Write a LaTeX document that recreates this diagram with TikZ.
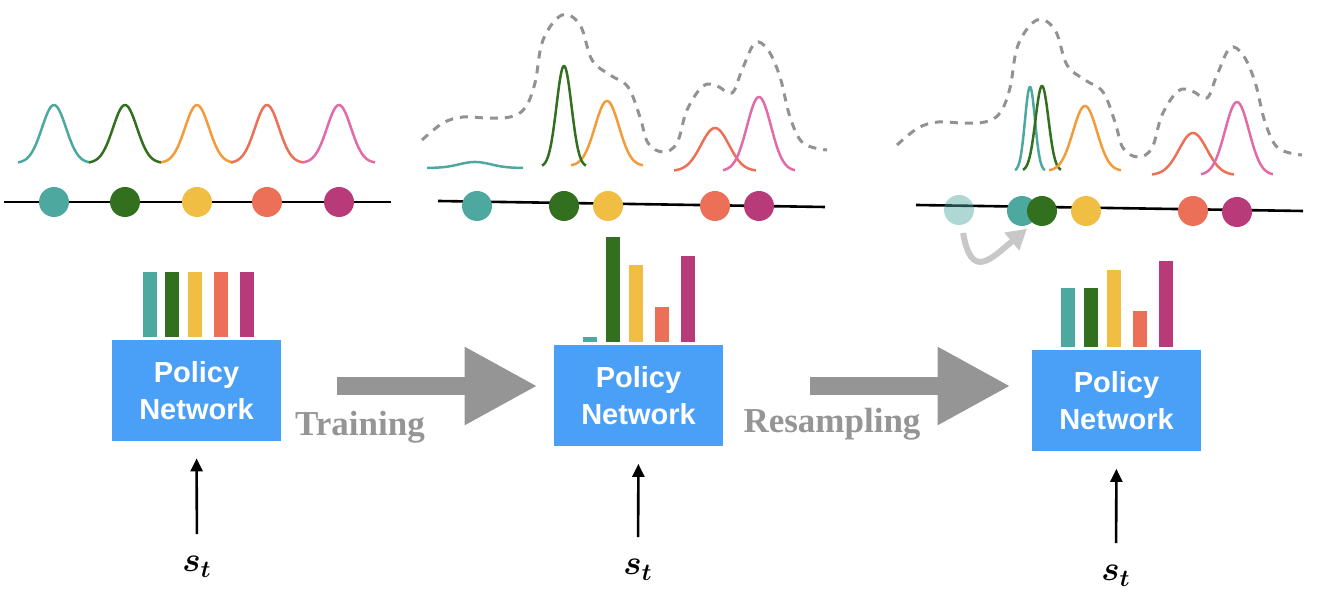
\documentclass[tikz,border=0pt]{standalone}
\usepackage{fontspec}
\setmainfont{Liberation Serif}
\newfontfamily\netfont{Liberation Sans}
\usepackage{tikz}
\usetikzlibrary{arrows.meta, positioning, calc}

\definecolor{cteal}{HTML}{4DA8A0}
\definecolor{cgreen}{HTML}{326F1E}
\definecolor{cyellow}{HTML}{F0BE42}
\definecolor{cred}{HTML}{EC6F58}
\definecolor{cmag}{HTML}{B93A78}
\definecolor{corange}{HTML}{F29B38}
\definecolor{cpink}{HTML}{E26AA8}
\definecolor{netblue}{HTML}{4A9FF6}
\definecolor{arrgray}{HTML}{959595}
\definecolor{dashgray}{HTML}{929292}
\definecolor{softgray}{HTML}{C8C8C8}

\begin{document}
\begin{tikzpicture}[
    x=0.5pt, y=-0.5pt,
    policy/.style={fill=netblue, minimum width=84.5pt, minimum height=50.5pt, inner sep=0pt,
        align=center, text=white, font=\netfont\bfseries\fontsize{14.5}{18.5}\selectfont},
    dot/.style={circle, minimum size=15pt, inner sep=0pt},
    axis/.style={line width=1.3pt, black},
    curve/.style={line width=1.25pt},
    envelope/.style={line width=1.5pt, dashgray, dash pattern=on 4pt off 3.5pt},
    state/.style={inner sep=0pt, font=\boldmath\fontsize{17.28}{20}\selectfont},
    input/.style={line width=1.3pt, -{Triangle[length=6.5pt, width=6pt]}, shorten <=11pt, shorten >=8.5pt},
    bigarrow/.style={line width=9pt, arrgray, -{Triangle[length=36.5pt, width=36.5pt]}},
    phase/.style={text=arrgray, font=\bfseries\fontsize{17.5}{20}\selectfont, inner sep=0pt},
    movearrow/.style={line width=3pt, softgray, -{Triangle[length=10pt, width=11pt]}}
]
\useasboundingbox (0,0) rectangle (1319,597);

% Policy networks
\node[policy] (net1) at (196.5,390.5) {Policy\\Network};
\node[policy] (net2) at (638.5,396) {Policy\\Network};
\node[policy] (net3) at (1116.5,401) {Policy\\Network};

% Inputs
\node[state, anchor=base] (s1) at (197,572) {$s_t$};
\node[state, anchor=base] (s2) at (638,575) {$s_t$};
\node[state, anchor=base] (s3) at (1116,581) {$s_t$};
\draw[input] (s1.north) -- (net1.south);
\draw[input] (s2.north) -- (net2.south);
\draw[input] (s3.north) -- (net3.south);

% Output bars
\foreach \b/\t/\c in {143/272/cteal, 165/272/cgreen, 188/272/cyellow, 214/272/cred, 240/272/cmag}
    \fill[\c] (\b,\t) rectangle (\b+13.5,337);
\foreach \b/\t/\c in {583/337/cteal, 606/237/cgreen, 629/265/cyellow, 655/307/cred, 681/256/cmag}
    \fill[\c] (\b,\t) rectangle (\b+13.5,342);
\foreach \b/\t/\c in {1061/288/cteal, 1084/288/cgreen, 1107/270/cyellow, 1133/311/cred, 1159/261/cmag}
    \fill[\c] (\b,\t) rectangle (\b+13.5,347);

% Phase arrows
\draw[bigarrow, shorten <=28pt, shorten >=8pt] ($(net1.east)+(0,-4.5)$) -- ($(net2.west)+(0,-10)$);
\draw[bigarrow, shorten <=43.5pt, shorten >=10.5pt] ($(net2.east)+(0,-10)$) -- ($(net3.west)+(0,-15)$);
\node[phase, anchor=base] (train) at (360,436) {Training};
\node[phase, anchor=base] (resample) at (832,433) {Resampling};

% Panel 1 - evenly spaced components
\foreach \m/\c in {54/cteal, 125/cgreen, 197/corange, 267/cred, 339/cpink}
    \draw[curve, \c] plot[domain=\m-36:\m+36, samples=50] (\x, {163-58*exp(-((\x-\m)^2)/288)});
\draw[axis] (4,202) -- (391,202);
\node[dot, fill=cteal] (a1) at (54,202) {};
\node[dot, fill=cgreen] (a2) at (125,202) {};
\node[dot, fill=cyellow] (a3) at (197,202) {};
\node[dot, fill=cred] (a4) at (267,202) {};
\node[dot, fill=cmag] (a5) at (339,202) {};

% Panel 2 - after training
\draw[envelope] plot[smooth, tension=0.6] coordinates {(422,140) (443,123) (463,117) (487,118) (510,117) (525,108) (535,83) (543,40) (562,15) (580,25) (592,60) (610,75) (628,87) (640,117) (648,143) (663,152) (677,143) (687,110) (703,86) (717,86) (732,93) (742,70) (755,43) (768,50) (780,77) (790,117) (803,143) (827,150)};
\foreach \m/\h/\s/\w/\b/\c in {475/6/16/48/168/cteal, 607/65/12/36/166/corange, 564/101/7.5/22/167/cgreen, 715/43/14/41/171/cred, 759/74/12/36/171/cpink}
    \draw[curve, \c] plot[domain=\m-\w:\m+\w, samples=60] (\x, {\b-\h*exp(-((\x-\m)^2)/(2*\s*\s))});
\draw[axis] (438,201) -- (825,207);
\node[dot, fill=cteal] (b1) at (477,206) {};
\node[dot, fill=cgreen] (b2) at (564,206) {};
\node[dot, fill=cyellow] (b3) at (608,206) {};
\node[dot, fill=cred] (b4) at (715,206) {};
\node[dot, fill=cmag] (b5) at (759,206) {};

% Panel 3 - after resampling
\begin{scope}[shift={(475,5)}]
\draw[envelope] plot[smooth, tension=0.6] coordinates {(422,140) (443,123) (463,117) (487,118) (510,117) (525,108) (535,83) (543,40) (562,15) (580,25) (592,60) (610,75) (628,87) (640,117) (648,143) (663,152) (677,143) (687,110) (703,86) (717,86) (732,93) (742,70) (755,43) (768,50) (780,77) (790,117) (803,143) (827,150)};
\end{scope}
\foreach \m/\h/\s/\w/\b/\c in {1030/84/5/15/171/cteal, 1042/85/6.5/19/171/cgreen, 1085/65/12/36/171/corange, 1193/42/14/41/175/cred, 1237/73/12/36/175/cpink}
    \draw[curve, \c] plot[domain=\m-\w:\m+\w, samples=60] (\x, {\b-\h*exp(-((\x-\m)^2)/(2*\s*\s))});
\draw[axis] (916,205) -- (1303,211);
\node[dot, fill=cteal, fill opacity=0.45] (c0) at (959,210) {};
\node[dot, fill=cteal] (c1) at (1022,211) {};
\node[dot, fill=cgreen] (c2) at (1042,211) {};
\node[dot, fill=cyellow] (c3) at (1086,211) {};
\node[dot, fill=cred] (c4) at (1193,211) {};
\node[dot, fill=cmag] (c5) at (1237,212) {};
\draw[movearrow, shorten <=4pt, shorten >=4pt] (c0.-80) to[out=-80, in=-140, looseness=2] (c2.-125);

\end{tikzpicture}
\end{document}
